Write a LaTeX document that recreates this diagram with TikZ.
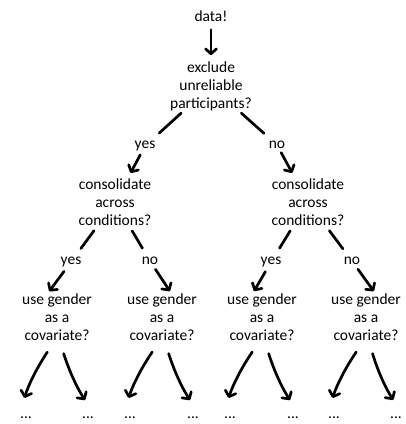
\documentclass[tikz,border=0pt]{standalone}
\usepackage{fontspec}
\setmainfont{Carlito}
\usetikzlibrary{arrows.meta}

\begin{document}
\begin{tikzpicture}[
  x=1pt, y=1pt,
  every node/.style={font=\fontsize{15.5}{18}\selectfont},
  txt/.style={align=center, inner sep=1pt},
  dots/.style={txt, anchor=base},
  hand/.style={line width=2.7pt, line cap=round, line join=round},
  arr/.style={hand, -{Straight Barb[length=5pt, width=11pt, round]}},
  fork/.style={arr, bend right=8, shorten <=12pt, shorten >=18pt},
]
\useasboundingbox (0,0) rectangle (406,-424);

%% ── Root question ────────────────────────────
\node[txt] (data) at (211,-16)  {data!};
\node[txt] (excl) at (211,-86)  {exclude\\unreliable\\participants?};

%% ── Level 1 answers ──────────────────────────
\node[txt] (yes1) at (145,-146) {yes};
\node[txt] (no1)  at (277,-145) {no};

%% ── Level 2 questions ────────────────────────
\node[txt] (consL) at (115,-202) {consolidate\\across\\conditions?};
\node[txt] (consR) at (308,-202) {consolidate\\across\\conditions?};

%% ── Level 2 answers ──────────────────────────
\node[txt] (yesL) at (71,-262)  {yes};
\node[txt] (noL)  at (150,-261) {no};
\node[txt] (yesR) at (271,-262) {yes};
\node[txt] (noR)  at (352,-261) {no};

%% ── Level 3 questions ────────────────────────
\node[txt] (covA) at (57,-317.5)  {use gender\\as a\\covariate?};
\node[txt] (covB) at (162,-317.5) {use gender\\as a\\covariate?};
\node[txt] (covC) at (262,-317.5) {use gender\\as a\\covariate?};
\node[txt] (covD) at (366,-317.5) {use gender\\as a\\covariate?};

%% ── Open ends ────────────────────────────────
\node[dots] (dA1) at (26,-418)  {...};
\node[dots] (dA2) at (88,-418)  {...};
\node[dots] (dB1) at (130,-418) {...};
\node[dots] (dB2) at (193,-418) {...};
\node[dots] (dC1) at (230,-418) {...};
\node[dots] (dC2) at (293,-418) {...};
\node[dots] (dD1) at (334,-418) {...};
\node[dots] (dD2) at (396,-418) {...};

%% ── Root arrows ──────────────────────────────
\draw[arr, shorten <=7pt, shorten >=5pt] (data) -- (excl);
\draw[hand, shorten <=2pt, shorten >=10pt] (excl) -- (yes1);
\draw[hand, shorten <=2pt, shorten >=10pt] (excl) -- (no1);
\draw[arr, shorten <=3pt, shorten >=5pt] (yes1) -- (consL);
\draw[arr, shorten <=3pt, shorten >=5pt] (no1)  -- (consR);

%% ── Level 2 arrows ───────────────────────────
\draw[hand, shorten <=5pt, shorten >=9pt] (consL) -- (yesL);
\draw[hand, shorten <=5pt, shorten >=9pt] (consL) -- (noL);
\draw[hand, shorten <=5pt, shorten >=9pt] (consR) -- (yesR);
\draw[hand, shorten <=5pt, shorten >=9pt] (consR) -- (noR);
\draw[arr, shorten <=4pt, shorten >=2pt] (yesL) -- (covA.110);
\draw[arr, shorten <=4pt, shorten >=2pt] (noL)  -- (covB.70);
\draw[arr, shorten <=4pt, shorten >=2pt] (yesR) -- (covC.110);
\draw[arr, shorten <=4pt, shorten >=2pt] (noR)  -- (covD.70);

%% ── Level 3 arrows ───────────────────────────
\draw[fork] (covA.-97) to (dA1.north west);
\draw[fork] (covA.-83) to (dA2.north east);
\draw[fork] (covB.-97) to (dB1.north west);
\draw[fork] (covB.-83) to (dB2.north east);
\draw[fork] (covC.-97) to (dC1.north west);
\draw[fork] (covC.-83) to (dC2.north east);
\draw[fork] (covD.-97) to (dD1.north west);
\draw[fork] (covD.-83) to (dD2.north east);

\end{tikzpicture}
\end{document}
